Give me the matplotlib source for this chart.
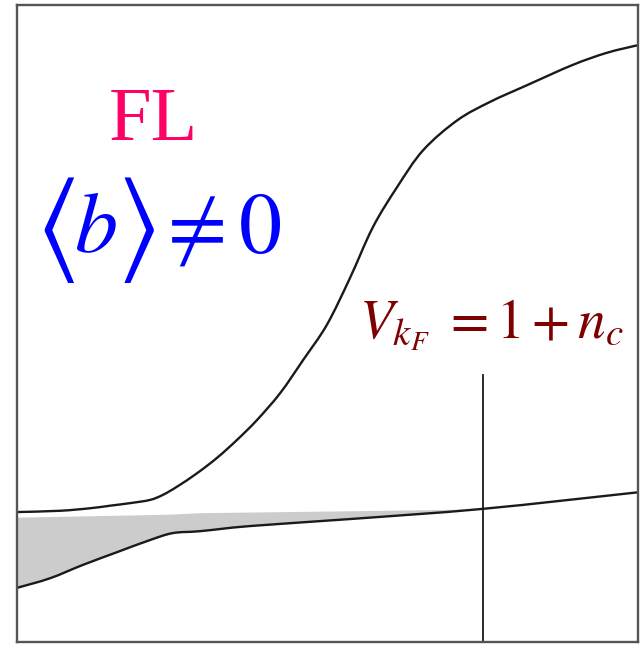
import numpy as np
import matplotlib
matplotlib.use("Agg")
import matplotlib.pyplot as plt
from matplotlib.path import Path
from matplotlib.patches import PathPatch

plt.rcParams["mathtext.fontset"] = "stix"
plt.rcParams["font.family"] = ["Liberation Serif", "DejaVu Serif"]

# upper crossover curve (x, y in axes units)
upper_x = [0.0, 0.069, 0.118, 0.150, 0.182, 0.214, 0.235, 0.258, 0.290, 0.322,
           0.354, 0.386, 0.424, 0.461, 0.499, 0.536, 0.573, 0.612, 0.654, 0.709,
           0.762, 0.821, 0.895, 0.950, 1.0]
upper_y = [0.204, 0.206, 0.210, 0.214, 0.218, 0.223, 0.231, 0.244, 0.265, 0.289,
           0.317, 0.348, 0.391, 0.443, 0.498, 0.571, 0.651, 0.714, 0.772, 0.819,
           0.848, 0.874, 0.906, 0.925, 0.937]

# lower line and the top edge of the shaded band
lower_x = [0.0, 0.053, 0.106, 0.161, 0.214, 0.251, 0.295, 0.375, 0.536, 0.750, 1.0]
lower_y = [0.085, 0.100, 0.121, 0.141, 0.160, 0.171, 0.174, 0.182, 0.193, 0.209, 0.235]
band_top = [0.196, 0.197, 0.198, 0.199, 0.200, 0.201, 0.203, 0.204, 0.206, 0.209, 0.235]

# vertical marker at the crossing point
mark_x = 0.750
mark_top = 0.419


def smooth_path(xs, ys):
    # catmull-rom through the points, as cubic bezier pieces
    p = np.column_stack([xs, ys])
    n = len(p)
    verts = [p[0]]
    codes = [Path.MOVETO]
    for i in range(n - 1):
        p0 = p[max(i - 1, 0)]
        p1 = p[i]
        p2 = p[i + 1]
        p3 = p[min(i + 2, n - 1)]
        verts += [p1 + (p2 - p0) / 6, p2 - (p3 - p1) / 6, p2]
        codes += [Path.CURVE4] * 3
    return Path(verts, codes)


fig = plt.figure(figsize=(6.4, 6.49), dpi=100)
ax = fig.add_axes([17 / 640, 7 / 649, 621 / 640, 637 / 649])
ax.set_xlim(0, 1)
ax.set_ylim(0, 1)
ax.set_xticks([])
ax.set_yticks([])
for s in ax.spines.values():
    s.set_color("#555555")
    s.set_linewidth(1.7)

lx = np.array(lower_x)
ly = np.array(lower_y)
bt = np.array(band_top)
ax.fill_between(lx, ly, bt, where=bt >= ly, color="#cccccc", lw=0, interpolate=True)
for xs, ys in [(upper_x, upper_y), (lower_x, lower_y)]:
    ax.add_patch(PathPatch(smooth_path(xs, ys), fill=False, ec="#1a1a1a", lw=1.7))
ax.plot([mark_x, mark_x], [0, mark_top], color="#1a1a1a", lw=1.3)

ax.text(0.219, 0.788, "FL", color="#ff0066", fontsize=55,
        ha="center", va="baseline")

# <b> != 0, with tall angle brackets
blue = "#0000ff"
ax.text(0.062, 0.647, r"$\langle$", color=blue, fontsize=82, ha="center", va="center")
ax.text(0.191, 0.647, r"$\rangle$", color=blue, fontsize=82, ha="center", va="center")
ax.text(0.127, 0.612, r"$b$", color=blue, fontsize=62, ha="center", va="baseline")
ax.text(0.427, 0.612, r"$\neq 0$", color=blue, fontsize=62, ha="right", va="baseline")

ax.text(0.550, 0.477, r"$V_{k_F}\;=1+n_c$", color="#7f0000",
        fontsize=40, ha="left", va="baseline")

fig.savefig("out.png", dpi=100)
